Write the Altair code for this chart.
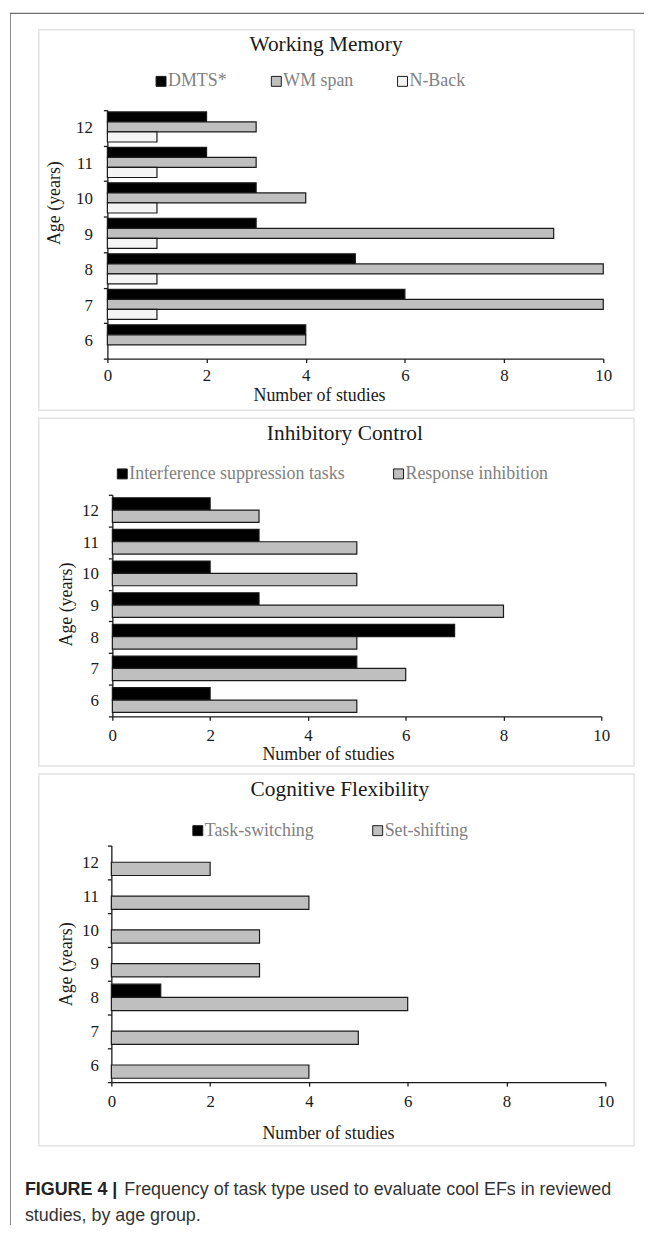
import json
import altair as alt
import pandas as pd

# ---------------- data ----------------
ages = [12, 11, 10, 9, 8, 7, 6]
x_ticks = [0, 2, 4, 6, 8, 10]

wm_title = "Working Memory"
wm_series = ["DMTS*", "WM span", "N-Back"]
wm_dmts = [2, 2, 3, 3, 5, 6, 4]
wm_span = [3, 3, 4, 9, 10, 10, 4]
wm_nback = [1, 1, 1, 1, 1, 1, 0]

ic_title = "Inhibitory Control"
ic_series = ["Interference suppression tasks", "Response inhibition"]
ic_interference = [2, 3, 2, 3, 7, 5, 2]
ic_response = [3, 5, 5, 8, 5, 6, 5]

cf_title = "Cognitive Flexibility"
cf_series = ["Task-switching", "Set-shifting"]
cf_task = [0, 0, 0, 0, 1, 0, 0]
cf_set = [2, 4, 3, 3, 6, 5, 4]

x_title = "Number of studies"
y_title = "Age (years)"

caption_bold = "FIGURE 4 |"
caption_line1 = "Frequency of task type used to evaluate cool EFs in reviewed"
caption_line2 = "studies, by age group."

# ---------------- styles ----------------
BLACK = "#000000"
GRAY = "#bfbfbf"
WHITE = "#f4f4f4"
INK = "#1a1a1a"
SERIF = "Liberation Serif"
SANS = "Liberation Sans"
PANEL_W = 599


def table(series, columns):
    rows = []
    for name, vals in zip(series, columns):
        for age, v in zip(ages, vals):
            rows.append({"age": age, "series": name, "n": v})
    return pd.DataFrame(rows)


def panel(title, series, columns, colors, g):
    df = table(series, columns)
    H = g["h"]
    band = (g["yr"][1] - g["yr"][0]) / len(ages)
    x_enc = alt.X(
        "n:Q",
        scale=alt.Scale(domain=[0, 10], range=g["xr"], nice=False),
        axis=alt.Axis(
            values=x_ticks, format="d", offset=g["yr"][1] - H, grid=False,
            tickSize=4, tickColor=INK, tickWidth=1.3,
            domainColor=INK, domainWidth=1.3,
            labelFont=SERIF, labelFontSize=17, labelColor=INK,
            labelPadding=g["xlp"], labelFlush=False,
            title=x_title, titleFont=SERIF, titleFontSize=18,
            titleFontWeight="normal", titleColor=INK,
            titleX=g["xtx"], titleY=g["xty"], titleAngle=0,
            titleAlign="center", titleBaseline="alphabetic",
        ),
    )
    y_enc = alt.Y(
        "age:O",
        sort=ages,
        scale=alt.Scale(range=g["yr"], paddingInner=0, paddingOuter=0),
        axis=alt.Axis(
            offset=-g["xr"][0], tickBand="extent", grid=False,
            tickSize=4, tickColor=INK, tickWidth=1.3,
            domainColor=INK, domainWidth=1.3,
            labelFont=SERIF, labelFontSize=17, labelColor=INK,
            labelPadding=g["ylp"], labelAngle=0,
            title=y_title, titleFont=SERIF, titleFontSize=18,
            titleFontWeight="normal", titleColor=INK,
            titleX=g["ytx"], titleY=g["yty"], titleAngle=270,
            titleAlign="center", titleBaseline="alphabetic",
        ),
    )
    c_enc = alt.Color(
        "series:N",
        sort=series,
        scale=alt.Scale(domain=series, range=colors),
        legend=alt.Legend(
            orient="none", legendX=g["lx"], legendY=g["ly"],
            direction="horizontal", title=None,
            symbolType="square", symbolSize=100,
            symbolStrokeColor=INK, symbolStrokeWidth=1,
            labelFont=SERIF, labelFontSize=18, labelColor="#808080",
            labelOffset={"expr": "-2"}, columnPadding=g["cp"], padding=0,
            labelLimit=500,
        ),
    )
    bh = g["bh"]
    layers = []
    for k, name in enumerate(series):
        centre = g["gap"] + bh * (k + 0.5) - band / 2
        layers.append(
            alt.Chart(df)
            .transform_filter(f"datum.series == {json.dumps(name)} && datum.n > 0")
            .mark_bar(stroke=INK, strokeWidth=1.2, height=bh, yOffset=centre)
            .encode(x=x_enc, y=y_enc, color=c_enc)
        )
    head = (
        alt.Chart(pd.DataFrame({"t": [title]}))
        .mark_text(font=SERIF, fontSize=21.5, align="center",
                   baseline="alphabetic", color=INK)
        .encode(text="t:N", x=alt.value(g["tx"]), y=alt.value(g["ty"]))
    )
    return layers, head


g1 = dict(h=383, xr=[69, 568], yr=[81, 331], bh=10.1, gap=1.7, tx=289, ty=21,
          lx=114, ly=43, cp=40, xtx=282, xty=42, ytx=-48, yty=174, xlp=5, ylp=11)
g2 = dict(h=350, xr=[74, 566], yr=[77, 300], bh=12.4, gap=3.0, tx=308, ty=22,
          lx=75, ly=47, cp=45, xtx=291, xty=43, ytx=-41, yty=187, xlp=7, ylp=10)
g3 = dict(h=374, xr=[73, 570], yr=[72, 310], bh=13.3, gap=3.5, tx=303, ty=22,
          lx=151, ly=48, cp=55, xtx=291, xty=57, ytx=-40, yty=191, xlp=8, ylp=9)

b1, h1 = panel(wm_title, wm_series, [wm_dmts, wm_span, wm_nback], [BLACK, GRAY, WHITE], g1)
b2, h2 = panel(ic_title, ic_series, [ic_interference, ic_response], [BLACK, GRAY], g2)
b3, h3 = panel(cf_title, cf_series, [cf_task, cf_set], [BLACK, GRAY], g3)

one = pd.DataFrame({"k": [0]})
frame_left = alt.Chart(one).mark_rule(color="#8a8a8a", strokeWidth=1).encode(
    x=alt.value(-28.5), y=alt.value(-16.5), y2=alt.value(1203))
frame_top = alt.Chart(one).mark_rule(color="#4a4a4a", strokeWidth=1).encode(
    x=alt.value(-29), x2=alt.value(609), y=alt.value(-16.5))

cap_b = alt.Chart(pd.DataFrame({"t": [caption_bold]})).mark_text(
    font=SANS, fontSize=18, fontWeight="bold", align="left",
    baseline="alphabetic", color="#222").encode(
    text="t:N", x=alt.value(-14), y=alt.value(424))
cap_1 = alt.Chart(pd.DataFrame({"t": [caption_line1]})).mark_text(
    font=SANS, fontSize=18, align="left", baseline="alphabetic",
    color="#333").encode(text="t:N", x=alt.value(86), y=alt.value(424))
cap_2 = alt.Chart(pd.DataFrame({"t": [caption_line2]})).mark_text(
    font=SANS, fontSize=18, align="left", baseline="alphabetic",
    color="#333").encode(text="t:N", x=alt.value(-14), y=alt.value(450))

p1 = alt.layer(*b1, h1, frame_left, frame_top).properties(width=PANEL_W, height=g1["h"])
p2 = alt.layer(*b2, h2).properties(width=PANEL_W, height=g2["h"])
p3 = alt.layer(*b3, h3, cap_b, cap_1, cap_2).properties(width=PANEL_W, height=g3["h"])

chart = (
    alt.vconcat(p1, p2, p3, spacing=8, bounds="flush")
    .resolve_scale(color="independent")
    .resolve_legend(color="independent")
    .properties(padding={"left": 0, "top": 0, "right": 0, "bottom": 0},
                background="white")
    .configure_view(stroke="#e3e3e3", strokeWidth=1.5, fill="white")
)

chart.save("out.html", embed_options={"renderer": "svg", "actions": False})
